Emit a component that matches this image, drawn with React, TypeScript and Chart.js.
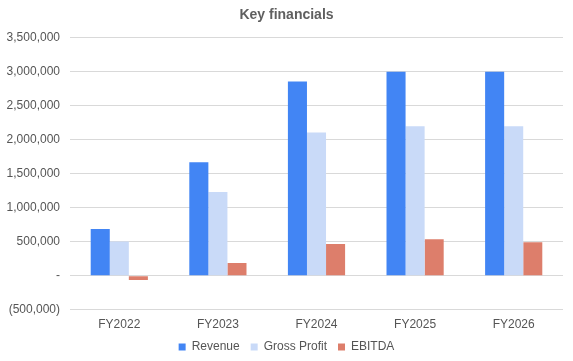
import React, { useEffect, useRef } from "react";
import { Chart, registerables } from "chart.js";

Chart.register(...registerables);

const categories = ["FY2022", "FY2023", "FY2024", "FY2025", "FY2026"];
const revenue = [685000, 1670000, 2857000, 3000000, 3000000];
const grossProfit = [504000, 1229000, 2107000, 2200000, 2200000];
const ebitda = [-65000, 185000, 465000, 534000, 490000];

function fmt(v: number): string {
  if (v === 0) return "-";
  const s = Math.abs(v).toLocaleString("en-US");
  return v < 0 ? `(${s})` : s;
}

export default function App() {
  const ref = useRef<HTMLCanvasElement | null>(null);
  useEffect(() => {
    if (!ref.current) return;
    const font = "Arial, 'Liberation Sans', sans-serif";
    const chart = new Chart(ref.current, {
      type: "bar",
      data: {
        labels: categories,
        datasets: [
          { label: "Revenue", data: revenue, backgroundColor: "#4285f4" },
          { label: "Gross Profit", data: grossProfit, backgroundColor: "#c9daf8" },
          { label: "EBITDA", data: ebitda, backgroundColor: "#dd7e6b" },
        ],
      },
      options: {
        animation: false,
        responsive: false,
        maintainAspectRatio: false,
        datasets: { bar: { categoryPercentage: 0.58, barPercentage: 1 } },
        layout: { padding: { left: 0, right: 0, top: 6, bottom: -2 } },
        plugins: {
          title: {
            display: true,
            text: "Key financials",
            color: "#5f5f5f",
            font: { family: font, size: 14, weight: "bold" },
            padding: { top: 1, bottom: 14 },
          },
          legend: {
            position: "bottom",
            labels: {
              boxWidth: 7,
              boxHeight: 7,
              color: "#555555",
              font: { family: font, size: 12 },
              padding: 11,
            },
          },
          tooltip: { enabled: false },
        },
        scales: {
          x: {
            grid: { display: false, drawTicks: false },
            border: { display: false },
            ticks: { color: "#555555", font: { family: font, size: 12 }, padding: 8 },
            afterFit: (scale: any) => {
              scale.height = scale.height - 10;
            },
          },
          y: {
            min: -500000,
            max: 3500000,
            grid: { color: "#d9d9d9", drawTicks: false, lineWidth: 1 },
            border: { display: false },
            ticks: {
              stepSize: 500000,
              color: "#555555",
              font: { family: font, size: 12 },
              padding: 10,
              callback: (v: any) => fmt(Number(v)),
            },
            afterFit: (scale: any) => {
              scale.width = 70;
            },
          },
          yRight: {
            position: "right",
            display: true,
            grid: { display: false, drawTicks: false },
            border: { display: false },
            ticks: { display: false },
            afterFit: (scale: any) => {
              scale.width = 10;
            },
          },
        },
      },
    });
    return () => chart.destroy();
  }, []);
  return (
    <div style={{ position: "absolute", left: 0, top: 0, width: 573, height: 361 }}>
      <canvas ref={ref} width={573} height={361} style={{ width: 573, height: 361 }} />
    </div>
  );
}
